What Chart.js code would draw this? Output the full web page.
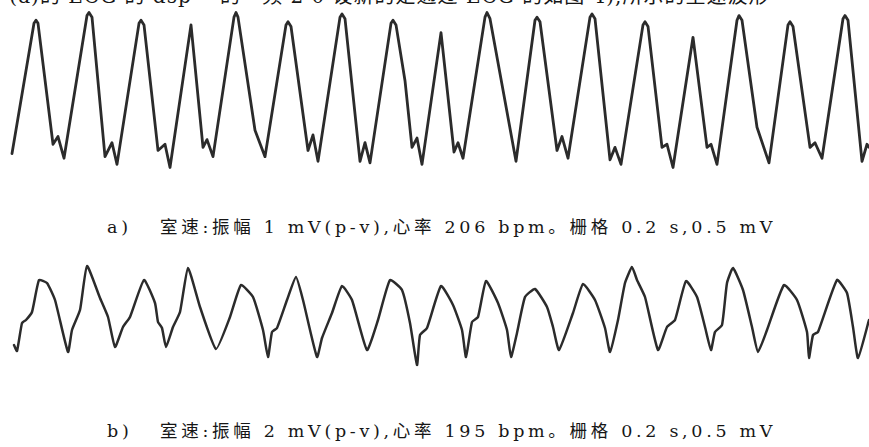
<!DOCTYPE html>
<html>
<head>
<meta charset="utf-8">
<script src="https://cdn.jsdelivr.net/npm/chart.js@4/dist/chart.umd.min.js"></script>
<style>
  html, body { margin: 0; padding: 0; background: #fff; }
  body { width: 869px; height: 447px; position: relative; overflow: hidden; }
  canvas { position: absolute; left: 0; }
  #ecgA { top: 0; }
  #ecgB { top: 250px; }
  .txt {
    position: absolute; white-space: pre; color: #161616;
    font-family: "DejaVu Serif", "Noto Sans CJK SC", serif;
    font-size: 17.5px; line-height: 1; letter-spacing: 3.7px;
  }
  .txt .lab { display: inline-block; width: 53px; }
  #head { left: 2px; top: -14px; font-size: 20px; letter-spacing: 1px; }
  #capA { left: 107px; top: 219px; }
  #capB { left: 107px; top: 423px; }
</style>
</head>
<body>
<div class="txt" id="head">·(a)的 ECG 的 dsp 一的一频 2 0 设新的是通过 ECG 的如图 4),所示的室速波形</div>
<canvas id="ecgA" width="869" height="180"></canvas>
<canvas id="ecgB" width="869" height="130"></canvas>
<div class="txt" id="capA"><span class="lab">a)</span>室速:振幅 1 mV(p-v),心率 206 bpm。栅格 0.2 s,0.5 mV</div>
<div class="txt" id="capB"><span class="lab">b)</span>室速:振幅 2 mV(p-v),心率 195 bpm。栅格 0.2 s,0.5 mV</div>
<script>
// Trace a) ventricular tachycardia, 1 mV p-v, 206 bpm. Time in ms, amplitude in mV.
const timeA = [
  60,
  170, 180, 190, 265, 290, 320,
  435, 445, 460, 525, 560, 585,
  695, 705, 720, 790, 825, 850,
  955, 1015, 1035, 1065,
  1170, 1180, 1190, 1275, 1325,
  1430, 1440, 1455, 1540, 1565, 1590,
  1700, 1710, 1725, 1800, 1825, 1850,
  1955, 1965, 1980, 2025, 2060, 2085, 2110,
  2205, 2270, 2290, 2315,
  2425, 2435, 2450, 2580,
  2675, 2685, 2700, 2785, 2810, 2840,
  2950, 2960, 2975, 3050, 3075, 3105,
  3215, 3225, 3240, 3310, 3335, 3365,
  3465, 3535, 3555, 3585,
  3685, 3695, 3710, 3785, 3845,
  3940, 3950, 3965, 4050, 4075, 4110,
  4215, 4225, 4240, 4310, 4335, 4345
];
const mvA = [
  -0.41,
  0.43, 0.45, 0.43, -0.35, -0.30, -0.44,
  0.48, 0.50, 0.47, -0.43, -0.34, -0.48,
  0.43, 0.45, 0.42, -0.39, -0.35, -0.50,
  0.42, -0.37, -0.32, -0.43,
  0.47, 0.50, 0.47, -0.26, -0.43,
  0.42, 0.44, 0.41, -0.39, -0.29, -0.46,
  0.47, 0.49, 0.46, -0.46, -0.34, -0.47,
  0.43, 0.45, 0.42, 0.06, -0.37, -0.31, -0.48,
  0.37, -0.40, -0.34, -0.44,
  0.47, 0.50, 0.46, -0.46,
  0.45, 0.47, 0.44, -0.39, -0.30, -0.44,
  0.47, 0.49, 0.46, -0.45, -0.37, -0.48,
  0.42, 0.44, 0.41, -0.37, -0.35, -0.50,
  0.34, -0.37, -0.35, -0.48,
  0.45, 0.48, 0.45, -0.24, -0.47,
  0.42, 0.44, 0.41, -0.37, -0.34, -0.44,
  0.46, 0.48, 0.45, -0.46, -0.35, -0.37
];

// Trace b) ventricular tachycardia, 2 mV p-v, 195 bpm.
const timeB = [
  70, 85,
  110, 130, 160, 195, 235, 275, 340,
  360, 400, 435, 500, 540, 575,
  615, 650, 720, 775, 790, 810, 830,
  865, 900, 940, 1000, 1080,
  1150, 1205, 1265, 1315, 1340,
  1360, 1385, 1435, 1480, 1515, 1585,
  1610, 1660, 1710, 1760, 1835,
  1890, 1950, 2010, 2050, 2085,
  2100, 2135, 2205, 2265, 2310, 2330,
  2360, 2390, 2430, 2490, 2535, 2555,
  2585, 2625, 2675, 2735, 2765, 2795,
  2865, 2915, 2975, 3025, 3050,
  3090, 3125, 3160, 3185, 3225, 3290,
  3335, 3375, 3430, 3485, 3525, 3555,
  3575, 3610, 3635, 3665, 3715, 3760, 3790,
  3835, 3920, 3985, 4035, 4045,
  4065, 4090, 4185, 4235, 4265, 4290,
  4345
];
const mvB = [
  -0.60, -0.72,
  -0.16, -0.10, 0.06, 0.70, 0.64, 0.30, -0.74,
  -0.30, 0.10, 0.98, 0.34, -0.04, -0.64,
  -0.24, -0.04, 0.70, 0.24, -0.14, -0.26, -0.64,
  -0.24, 0.06, 0.94, 0.16, -0.68,
  -0.04, 0.60, 0.36, -0.30, -0.84,
  -0.34, -0.26, 0.30, 0.76, 0.30, -0.84,
  -0.46, 0.04, 0.58, 0.30, -0.70,
  -0.10, 0.70, 0.50, -0.16, -1.00,
  -0.40, -0.26, 0.58, 0.20, -0.30, -0.84,
  -0.14, -0.04, 0.68, 0.24, -0.30, -0.84,
  -0.36, 0.36, 0.52, 0.16, -0.24, -0.70,
  0.04, 0.62, 0.30, -0.26, -0.74,
  -0.10, 0.64, 0.96, 0.70, 0.36, -0.70,
  -0.24, -0.10, 0.68, 0.36, -0.24, -0.70,
  -0.34, -0.20, 0.64, 0.94, 0.50, -0.24, -0.74,
  -0.30, 0.60, 0.30, -0.34, -0.86,
  -0.40, -0.34, 0.70, 0.44, -0.24, -0.86,
  -0.10
];

function trace(canvasId, times, volts, yMin, yMax, width, tension) {
  const pts = times.map((t, i) => ({ x: t, y: volts[i] }));
  return new Chart(document.getElementById(canvasId), {
    type: 'line',
    data: {
      datasets: [{
        data: pts,
        borderColor: '#2b2b2b',
        borderWidth: width,
        pointRadius: 0,
        tension: tension,
        borderJoinStyle: 'round',
        borderCapStyle: 'round',
        fill: false
      }]
    },
    options: {
      responsive: false,
      animation: false,
      events: [],
      layout: { padding: 0 },
      plugins: { legend: { display: false }, tooltip: { enabled: false } },
      scales: {
        x: { type: 'linear', min: 0, max: 4345, display: false },
        y: { min: yMin, max: yMax, display: false }
      }
    }
  });
}

trace('ecgA', timeA, mvA, -0.5806, 0.5806, 2.8, 0);
trace('ecgB', timeB, mvB, -1.3, 1.3, 2.5, 0.15);
</script>
</body>
</html>
